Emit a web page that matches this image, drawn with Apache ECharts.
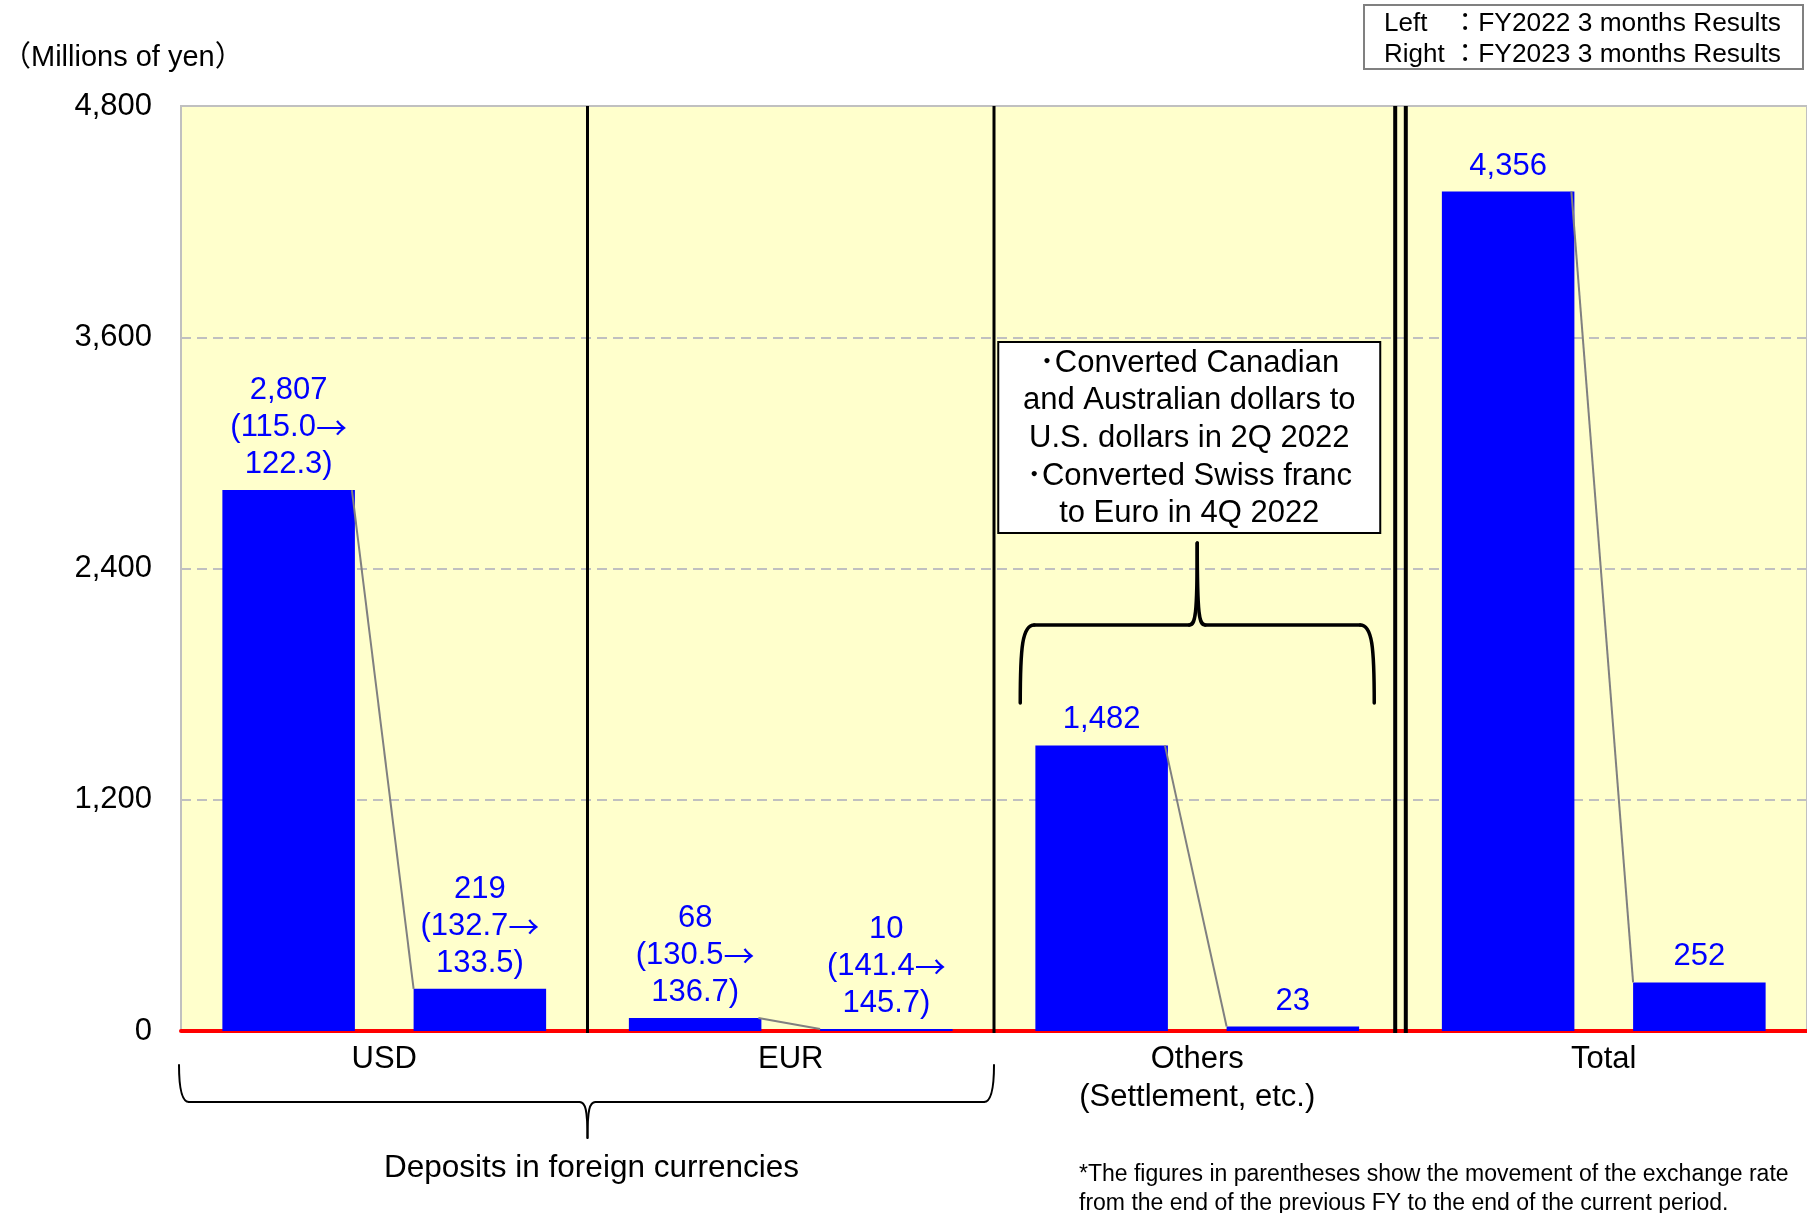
<!DOCTYPE html>
<html>
<head>
<meta charset="utf-8">
<script src="https://cdn.jsdelivr.net/npm/echarts@6/dist/echarts.min.js"></script>
<style>
  html, body { margin: 0; padding: 0; background: #ffffff; }
  #chart { width: 1807px; height: 1213px; }
</style>
</head>
<body>
<div id="chart"></div>
<script>
// Foreign exchange gains/losses by currency (millions of yen)
const categories = ['USD', 'EUR', 'Others\n(Settlement, etc.)', 'Total'];
const fy2022Values = [2807, 68, 1482, 4356];
const fy2023Values = [219, 10, 23, 252];
// Exchange rate movement shown under each value (previous FY end → period end)
const fy2022Rates = [['115.0', '122.3'], ['130.5', '136.7'], null, null];
const fy2023Rates = [['132.7', '133.5'], ['141.4', '145.7'], null, null];
const yTicks = [0, 1200, 2400, 3600, 4800];

const unitLabel = '（Millions of yen）';
const legendRows = [['Left', '：FY2022 3 months Results'], ['Right', '：FY2023 3 months Results']];
const noteLines = ['･Converted Canadian', 'and Australian dollars to', 'U.S. dollars in 2Q 2022', '･Converted Swiss franc', 'to Euro in 4Q 2022'];
const groupLabel = 'Deposits in foreign currencies';
const footnoteLines = ['*The figures in parentheses show the movement of the exchange rate', 'from the end of the previous FY to the end of the current period.'];

const FONT = 'Arial, "Liberation Sans", "Noto Sans CJK JP", sans-serif';
const ARROW_FONT = '"Noto Sans CJK JP", sans-serif';
const BLUE = '#0000FF';
const BAR_WIDTH = 0.326;   // share of category band
const BAR_GAP = 0.443;     // share of bar width

const fmt = v => Number(v).toLocaleString('en-US');

function barLabel(rates) {
  return {
    show: true,
    position: 'top',
    distance: 7,
    color: BLUE,
    fontFamily: FONT,
    fontSize: 31,
    lineHeight: 37,
    align: 'center',
    formatter: p => {
      const r = rates[p.dataIndex];
      return fmt(p.value) + (r ? '\n(' + r[0] + '{a|→}\n' + r[1] + ')' : '');
    },
    rich: {
      a: { fontFamily: ARROW_FONT, fontSize: 31, lineHeight: 37, color: BLUE }
    }
  };
}

const chart = echarts.init(document.getElementById('chart'), null, { renderer: 'canvas' });

const option = {
  animation: false,
  backgroundColor: '#ffffff',
  textStyle: { fontFamily: FONT },
  grid: {
    left: 181, top: 106, right: -3, bottom: 182,
    show: true, backgroundColor: '#FFFFCC', borderColor: '#C0C0C0', borderWidth: 2
  },
  xAxis: {
    type: 'category',
    data: categories,
    axisLine: { show: true, lineStyle: { color: '#FF0000', width: 4 } },
    axisTick: { show: false },
    axisLabel: { color: '#000000', fontFamily: FONT, fontSize: 31, lineHeight: 38, margin: 9, interval: 0 },
    splitLine: { show: false }
  },
  yAxis: {
    type: 'value',
    min: yTicks[0],
    max: yTicks[yTicks.length - 1],
    interval: yTicks[1] - yTicks[0],
    axisLine: { show: false },
    axisTick: { show: false },
    axisLabel: { color: '#000000', fontFamily: FONT, fontSize: 31, margin: 29, formatter: v => fmt(v) },
    splitLine: { show: true, lineStyle: { color: '#C0C0C0', width: 2, type: [10, 6] } }
  },
  series: [
    {
      name: 'FY2022 3 months Results',
      type: 'bar',
      data: fy2022Values,
      barWidth: (BAR_WIDTH * 100) + '%',
      barGap: (BAR_GAP * 100) + '%',
      itemStyle: { color: BLUE },
      label: barLabel(fy2022Rates)
    },
    {
      name: 'FY2023 3 months Results',
      type: 'bar',
      data: fy2023Values,
      barWidth: (BAR_WIDTH * 100) + '%',
      barGap: (BAR_GAP * 100) + '%',
      itemStyle: { color: BLUE },
      label: barLabel(fy2023Rates)
    }
  ]
};

chart.setOption(option);

// Decorations positioned from the axes
const xAt = i => chart.convertToPixel({ xAxisIndex: 0 }, i);
const yAt = v => chart.convertToPixel({ yAxisIndex: 0 }, v);
const band = xAt(1) - xAt(0);
const barW = band * BAR_WIDTH;
const pairOffset = (barW + barW * BAR_GAP) / 2;
const boundary = i => (xAt(i) + xAt(i + 1)) / 2;
const yTop = yAt(yTicks[yTicks.length - 1]);
const yZero = yAt(0);

const graphics = [];

function seg(x1, y1, x2, y2, w) {
  graphics.push({ type: 'line', z: 100, silent: true, shape: { x1, y1, x2, y2 }, style: { stroke: '#000000', lineWidth: w, lineCap: 'round' } });
}
function curve(x1, y1, c1x, c1y, c2x, c2y, x2, y2, w) {
  graphics.push({
    type: 'bezierCurve', z: 100, silent: true,
    shape: { x1, y1, x2, y2, cpx1: c1x, cpy1: c1y, cpx2: c2x, cpy2: c2y },
    style: { stroke: '#000000', lineWidth: w, fill: null, lineCap: 'round' }
  });
}
// curly brace: arms at (l, armY) and (r, armY), flat run at y=h, tip at (m, tip)
function brace(l, r, m, armY, h, tip, w, corner) {
  const s = Math.sign(armY - h); // direction from flat run toward arms
  curve(l, armY, l, h + s * corner * 1.6, l + 2, h, l + corner, h, w);
  seg(l + corner, h, m - 8, h, w);
  curve(m - 8, h, m - 2, h, m, h - s * 8, m, tip, w);
  curve(m, tip, m, h - s * 8, m + 2, h, m + 8, h, w);
  seg(m + 8, h, r - corner, h, w);
  curve(r - corner, h, r - 2, h, r, h + s * corner * 1.6, r, armY, w);
}

// series lines joining the two bars of each category
categories.forEach((c, i) => {
  const cx = xAt(i);
  graphics.push({
    type: 'line', z: 100, silent: true,
    shape: { x1: cx - pairOffset + barW / 2 - 3, y1: yAt(fy2022Values[i]), x2: cx + pairOffset - barW / 2, y2: yAt(fy2023Values[i]) },
    style: { stroke: '#808080', lineWidth: 2 }
  });
});

// category separators (double line before the total)
[0, 1].forEach(i => {
  const bx = boundary(i);
  graphics.push({ type: 'line', z: 100, silent: true, shape: { x1: bx, y1: yTop, x2: bx, y2: yZero + 2 }, style: { stroke: '#000000', lineWidth: 3 } });
});
[-5.3, 5.3].forEach(d => {
  const bx = boundary(2) + d;
  graphics.push({ type: 'line', z: 100, silent: true, shape: { x1: bx, y1: yTop, x2: bx, y2: yZero + 2 }, style: { stroke: '#000000', lineWidth: 4 } });
});

// brace under USD and EUR
(function () {
  const l = xAt(0) - band / 2 - 2, r = boundary(1), m = boundary(0);
  brace(l, r, m, yZero + 34, yZero + 71, yZero + 107, 2, 10);
  graphics.push({
    type: 'text', z: 100, silent: true, x: m + 4, y: yZero + 137,
    style: { text: groupLabel, fontFamily: FONT, fontSize: 31.5, fill: '#000000', align: 'center', verticalAlign: 'middle' }
  });
})();

// brace above the Others bars and its note
(function () {
  const cx = xAt(2);
  brace(cx - 177, cx + 177, cx, 703, 625, 543, 3.5, 14);
  graphics.push({
    type: 'rect', z: 100, silent: true,
    shape: { x: cx - 199, y: 342, width: 382, height: 191 },
    style: { fill: '#ffffff', stroke: '#000000', lineWidth: 2 }
  });
  graphics.push({
    type: 'text', z: 101, silent: true, x: cx - 8, y: 438.5,
    style: { text: noteLines.join('\n'), fontFamily: FONT, fontSize: 31, lineHeight: 37.7, fill: '#000000', align: 'center', verticalAlign: 'middle' }
  });
})();

// unit label
graphics.push({
  type: 'text', z: 100, silent: true, x: 2, y: 58,
  style: { text: unitLabel, fontFamily: FONT, fontSize: 29, fill: '#000000', align: 'left', verticalAlign: 'middle' }
});

// legend box
graphics.push({
  type: 'rect', z: 100, silent: true,
  shape: { x: 1364, y: 5, width: 439, height: 64 },
  style: { fill: '#ffffff', stroke: '#808080', lineWidth: 2 }
});
legendRows.forEach((row, k) => {
  const y = 24 + k * 31;
  graphics.push({ type: 'text', z: 101, silent: true, x: 1384, y, style: { text: row[0], fontFamily: FONT, fontSize: 26, fill: '#000000', align: 'left', verticalAlign: 'middle' } });
  graphics.push({ type: 'text', z: 101, silent: true, x: 1452, y, style: { text: row[1], fontFamily: FONT, fontSize: 26.3, fill: '#000000', align: 'left', verticalAlign: 'middle' } });
});

// footnote
footnoteLines.forEach((t, k) => {
  graphics.push({
    type: 'text', z: 100, silent: true, x: 1079, y: 1175 + k * 29,
    style: { text: t, fontFamily: FONT, fontSize: 23, fill: '#000000', align: 'left', verticalAlign: 'middle' }
  });
});

chart.setOption({ graphic: graphics });
</script>
</body>
</html>
